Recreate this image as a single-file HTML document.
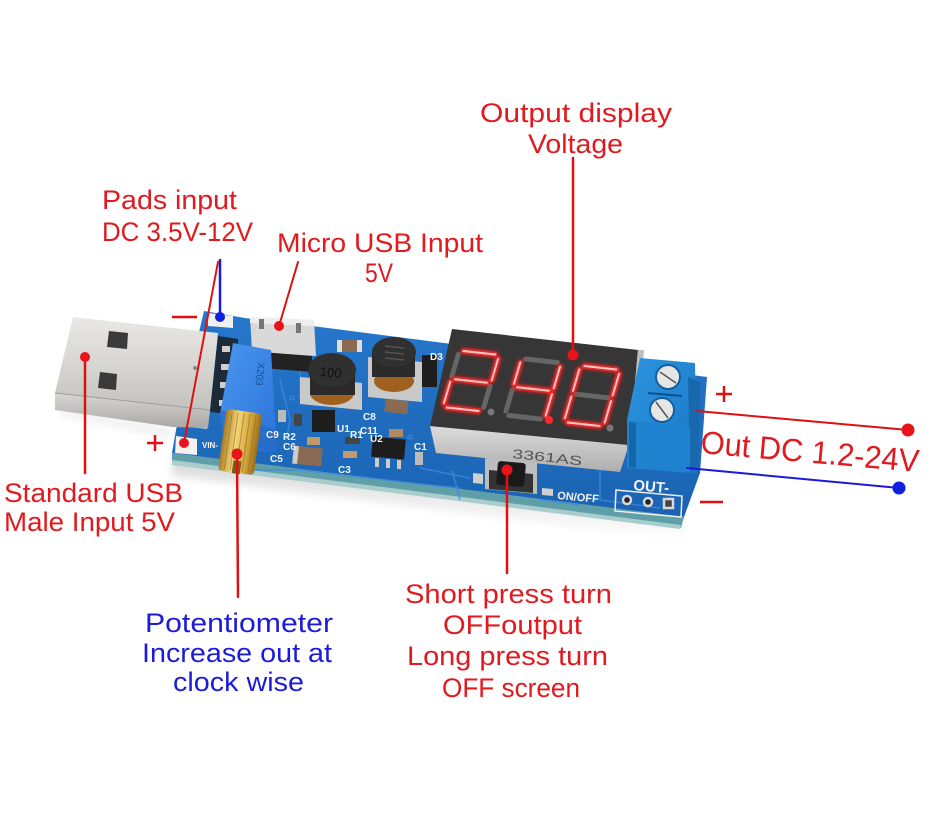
<!DOCTYPE html>
<html><head><meta charset="utf-8"><style>
html,body{margin:0;padding:0;background:#fff;}
svg{display:block;}
text{font-family:"Liberation Sans",Arial,sans-serif;}
</style></head><body>
<svg width="933" height="819" viewBox="0 0 933 819" xmlns="http://www.w3.org/2000/svg">
<defs>
<linearGradient id="pcb" x1="0" y1="0" x2="0" y2="1"><stop offset="0" stop-color="#2677cc"/><stop offset="1" stop-color="#1a63b2"/></linearGradient>
<linearGradient id="usb" x1="0" y1="0" x2="0" y2="1"><stop offset="0" stop-color="#e9e8e6"/><stop offset="0.6" stop-color="#d3d2cf"/><stop offset="1" stop-color="#c2c1be"/></linearGradient>
<linearGradient id="usbside" x1="0" y1="0" x2="0" y2="1"><stop offset="0" stop-color="#d8d7d5"/><stop offset="1" stop-color="#a9a8a5"/></linearGradient>
<linearGradient id="brass" x1="0" y1="0" x2="1" y2="0"><stop offset="0" stop-color="#a87a22"/><stop offset="0.35" stop-color="#f4d67a"/><stop offset="0.7" stop-color="#d7a940"/><stop offset="1" stop-color="#9a6d1c"/></linearGradient>
<linearGradient id="pot" x1="0" y1="0" x2="1" y2="1"><stop offset="0" stop-color="#4b97f0"/><stop offset="1" stop-color="#2a72d8"/></linearGradient>
<linearGradient id="dispside" x1="0" y1="0" x2="0" y2="1"><stop offset="0" stop-color="#dcdcdc"/><stop offset="1" stop-color="#aeaeae"/></linearGradient>
<linearGradient id="term" x1="0" y1="0" x2="1" y2="1"><stop offset="0" stop-color="#2e94e0"/><stop offset="1" stop-color="#1878c4"/></linearGradient>
<linearGradient id="shadow" x1="0" y1="0" x2="0" y2="1"><stop offset="0" stop-color="#d2d2d2"/><stop offset="1" stop-color="#ffffff"/></linearGradient>
<filter id="blur" x="-20%" y="-50%" width="140%" height="200%"><feGaussianBlur stdDeviation="4"/></filter>
<filter id="glow" x="-30%" y="-30%" width="160%" height="160%"><feGaussianBlur stdDeviation="1.5"/></filter>
</defs>

<!-- shadow -->
<polygon points="172,456 684,520 690,542 172,476" fill="url(#shadow)" filter="url(#blur)" opacity="0.85"/>
<polygon points="60,408 172,428 172,438 60,416" fill="#e6e6e6" filter="url(#blur)" opacity="0.6"/>

<!-- PCB side thickness -->
<polygon points="172,453 684,517 681,528 172,463" fill="#5f9fa8"/>
<polygon points="172,460 681,525 680,529 172,465" fill="#a9cccc"/>

<!-- PCB top face -->
<polygon points="204,311 245,318 320,327 707,377 700,473 684,517 172,453 176,430" fill="url(#pcb)"/>
<!-- traces -->
<g stroke="#3d8be0" stroke-width="1.5" fill="none" opacity="0.75">
<polyline points="250,470 300,470 420,484 460,488"/>
<polyline points="420,468 440,472 470,478"/>
<polyline points="600,470 600,500 660,508"/>
<polyline points="452,470 460,500"/>
<polyline points="300,370 300,398"/>
<polyline points="280,380 290,420 286,440"/>
<polyline points="540,500 580,505"/>
<circle cx="292" cy="398" r="2"/>
<circle cx="410" cy="437" r="2"/>
</g>

<!-- pads left -->
<polygon points="208,313 233,316 233,328 208,326" fill="#f1f1f1"/>
<polygon points="176,436 197,439 197,455 175,453" fill="#f1f1f1"/>
<polygon points="190,420 207,422 207,429 190,427" fill="#d9d9d9"/>

<!-- USB plug -->
<polygon points="73,317 218,333 210,410 55,393" fill="url(#usb)"/>
<polygon points="55,393 210,410 208,428 173,427 55,410" fill="url(#usbside)"/>
<line x1="55" y1="393" x2="210" y2="410" stroke="#9e9d9a" stroke-width="1"/>
<polygon points="109,331 128,333 127,349 107,347" fill="#3a3a3a"/>
<polygon points="100,372 117,374 116,390 98,388" fill="#3a3a3a"/>
<circle cx="195" cy="368" r="2" fill="#888"/>
<!-- pins -->
<polygon points="218,336 238,339 236,415 210,412" fill="#1d2a38"/>
<g fill="#cfcfcf"><rect x="222" y="346" width="8" height="6"/><rect x="221" y="364" width="8" height="6"/><rect x="220" y="382" width="8" height="6"/><rect x="219" y="400" width="8" height="6"/></g>

<!-- micro usb -->
<polygon points="250,317 314,320 316,356 252,352" fill="#d9d9d9"/>
<polygon points="250,317 314,320 314,326 250,323" fill="#eeeeee"/>
<rect x="259" y="319" width="5" height="10" fill="#777"/>
<rect x="296" y="323" width="5" height="10" fill="#777"/>
<polygon points="262,352 312,356 312,372 262,368" fill="#222"/>

<!-- pot -->
<polygon points="233,343 271,350 277,453 226,448 220,414" fill="url(#pot)"/>
<polygon points="220,414 226,448 277,453 276,430 222,410" fill="#2466c0" opacity="0.6"/>
<text x="0" y="0" transform="translate(258,362) rotate(96)" font-size="10" fill="#1c4f9a">X203</text>
<!-- brass knob -->
<g transform="translate(240,443) rotate(8)">
<rect x="-18" y="-32" width="36" height="62" rx="4" fill="url(#brass)"/>
<g stroke="#9c7220" stroke-width="1" opacity="0.7"><line x1="-12" y1="-30" x2="-12" y2="28"/><line x1="-6" y1="-30" x2="-6" y2="28"/><line x1="0" y1="-30" x2="0" y2="28"/><line x1="6" y1="-30" x2="6" y2="28"/><line x1="12" y1="-30" x2="12" y2="28"/></g>
<rect x="-4" y="18" width="8" height="13" fill="#7a5a18"/>
</g>

<!-- inductors -->
<polygon points="300,377 362,383 362,410 300,404" fill="#c9c9c9"/>
<ellipse cx="332" cy="393" rx="22" ry="12" fill="#a0601e"/>
<rect x="310" y="370" width="45" height="25" fill="#2a2a2a"/>
<ellipse cx="332" cy="370" rx="24" ry="17" fill="#303030"/>
<text x="320" y="377" font-size="13" fill="#111" transform="rotate(5 332 372)">100</text>
<polygon points="368,357 422,362 422,402 368,397" fill="#c9c9c9"/>
<ellipse cx="394" cy="381" rx="20" ry="11" fill="#a0601e"/>
<rect x="372" y="352" width="43" height="25" fill="#2a2a2a"/>
<ellipse cx="394" cy="352" rx="22" ry="15" fill="#303030"/>
<g stroke="#555" stroke-width="1.5"><line x1="385" y1="346" x2="404" y2="348"/><line x1="385" y1="352" x2="404" y2="354"/><line x1="385" y1="358" x2="404" y2="360"/></g>

<!-- SMD parts -->
<g>
<rect x="337" y="340" width="25" height="12" fill="#8a6a52"/><rect x="337" y="340" width="5" height="12" fill="#ddd"/><rect x="357" y="340" width="5" height="12" fill="#ddd"/>
<rect x="385" y="400" width="23" height="13" fill="#8a6a52" transform="rotate(6 396 406)"/>
<rect x="389" y="429" width="14" height="8" fill="#b08a60"/>
<rect x="293" y="447" width="29" height="18" fill="#8a6a52" transform="rotate(6 307 456)"/><rect x="293" y="447" width="5" height="18" fill="#ccc" transform="rotate(6 307 456)"/>
<rect x="307" y="437" width="13" height="8" fill="#c09a6a"/>
<rect x="343" y="451" width="14" height="7" fill="#c09a6a"/>
<rect x="345" y="437" width="15" height="7" fill="#444"/>
<rect x="372" y="438" width="33" height="20" fill="#1d1d1d" transform="rotate(5 388 448)"/>
<g fill="#ccc"><rect x="375" y="458" width="4" height="9"/><rect x="386" y="459" width="4" height="9"/><rect x="397" y="460" width="4" height="9"/></g>
<rect x="415" y="452" width="8" height="13" fill="#bbb"/>
<rect x="312" y="410" width="23" height="22" fill="#1d1d1d"/>
<rect x="422" y="355" width="15" height="32" fill="#1d1d1d"/>
<rect x="278" y="410" width="8" height="12" fill="#bbb"/>
<rect x="294" y="414" width="8" height="12" fill="#444"/>
</g>
<g fill="#f4f4f4" font-size="10" font-weight="bold">
<text x="430" y="360">D3</text>
<text x="363" y="420">C8</text>
<text x="360" y="434">C11</text>
<text x="337" y="432">U1</text>
<text x="370" y="442">U2</text>
<text x="350" y="438">R1</text>
<text x="266" y="438">C9</text>
<text x="283" y="440">R2</text>
<text x="283" y="450">C6</text>
<text x="270" y="462">C5</text>
<text x="338" y="473">C3</text>
<text x="414" y="450">C1</text>
<text x="202" y="448" font-size="8">VIN-</text>
</g>

<!-- display -->
<polygon points="430,426 629,445 620,472 436,453" fill="url(#dispside)"/>
<polygon points="452,329 638,350 629,445 430,426" fill="#363636"/>
<polygon points="638,350 644,350 636,447 629,445" fill="#bdbdbd"/>
<text x="0" y="0" transform="translate(512,458) rotate(6)" font-size="13" fill="#555" textLength="70" lengthAdjust="spacingAndGlyphs">3361AS</text>

<!-- digits unlit -->
<g stroke="#777" stroke-width="5" stroke-linecap="round" fill="none" opacity="0.75">
<path transform="translate(471,381) rotate(6.4) skewX(-10)" d="M-16,-29H16M20,-25V-3M20,3V25M-16,29H16M-20,3V25M-20,-25V-3M-16,0H16"/>
<path transform="translate(533,389) rotate(6.4) skewX(-10)" d="M-16,-29H16M20,-25V-3M20,3V25M-16,29H16M-20,3V25M-20,-25V-3M-16,0H16"/>
<path transform="translate(592,396) rotate(6.4) skewX(-10)" d="M-16,-29H16M20,-25V-3M20,3V25M-16,29H16M-20,3V25M-20,-25V-3M-16,0H16"/>
</g>
<g fill="#777"><circle cx="491" cy="412" r="3.5"/><circle cx="610" cy="428" r="3.5"/></g>
<!-- digits lit -->
<g stroke="#ff1a1a" stroke-width="6" stroke-linecap="round" fill="none" filter="url(#glow)">
<path transform="translate(471,381) rotate(6.4) skewX(-10)" d="M-16,-29H16M20,-25V-3M-16,0H16M-20,3V25M-16,29H16"/>
<path transform="translate(533,389) rotate(6.4) skewX(-10)" d="M-20,-25V-3M-16,0H16M20,-25V-3M20,3V25"/>
<path transform="translate(592,396) rotate(6.4) skewX(-10)" d="M-16,-29H16M20,-25V-3M20,3V25M-16,29H16M-20,3V25M-20,-25V-3"/>
</g>
<g stroke="#ffc4c4" stroke-width="2" stroke-linecap="round" fill="none">
<path transform="translate(471,381) rotate(6.4) skewX(-10)" d="M-16,-29H16M20,-25V-3M-16,0H16M-20,3V25M-16,29H16"/>
<path transform="translate(533,389) rotate(6.4) skewX(-10)" d="M-20,-25V-3M-16,0H16M20,-25V-3M20,3V25"/>
<path transform="translate(592,396) rotate(6.4) skewX(-10)" d="M-16,-29H16M20,-25V-3M20,3V25M-16,29H16M-20,3V25M-20,-25V-3"/>
</g>
<circle cx="549" cy="420" r="4" fill="#ff2a2a"/>

<!-- button -->
<polygon points="473,473 483,474 483,484 473,483" fill="#cfcfcf"/>
<polygon points="542,488 553,489 553,496 542,495" fill="#cfcfcf"/>
<polygon points="485,458 537,463 537,494 485,489" fill="#bdbdbd"/>
<polygon points="489,470 533,474 533,493 489,489" fill="#333"/>
<rect x="497" y="462" width="28" height="24" rx="3" fill="#1a1a1a" transform="rotate(5 511 474)"/>
<text x="0" y="0" transform="translate(557,499) rotate(5)" font-size="11" font-weight="bold" fill="#f2f2f2">ON/OFF</text>

<!-- terminal block -->
<polygon points="640,358 695,363 697,473 627,468 627,420" fill="url(#term)"/>
<polygon points="688,377 700,382 698,466 690,472" fill="#1868ae"/>
<polygon points="627,420 690,428 690,473 627,468" fill="#1f82cf"/>
<polygon points="629,422 636,423 636,468 629,467" fill="#1566a8"/>
<circle cx="668" cy="377" r="12" fill="#e6e6e6" stroke="#155f9e" stroke-width="2"/>
<line x1="660" y1="372" x2="676" y2="383" stroke="#555" stroke-width="1.5"/>
<circle cx="662" cy="410" r="12" fill="#e6e6e6" stroke="#155f9e" stroke-width="2"/>
<line x1="656" y1="402" x2="668" y2="418" stroke="#555" stroke-width="1.5"/>
<line x1="648" y1="393" x2="682" y2="396" stroke="#0f4f88" stroke-width="2"/>

<!-- OUT- and pins -->
<text x="0" y="0" transform="translate(633,490) rotate(5)" font-size="15" font-weight="bold" fill="#f4f4f4">OUT-</text>
<polygon points="616,490 682,496 681,517 615,511" fill="none" stroke="#eee" stroke-width="1.5"/>
<g stroke="#d8d8d8" stroke-width="2.5" fill="#222"><circle cx="627" cy="500" r="4"/><circle cx="648" cy="502" r="4"/></g>
<rect x="664" y="499" width="9" height="9" fill="#444" stroke="#d8d8d8" stroke-width="2.5"/>

<!-- ===== annotations ===== -->
<g stroke-linecap="round">
<line x1="573" y1="158" x2="573" y2="355" stroke="#e01010" stroke-width="2.5"/>
<line x1="220" y1="260" x2="220" y2="317" stroke="#1a1adb" stroke-width="2.5"/>
<line x1="218" y1="262" x2="184" y2="443" stroke="#e01010" stroke-width="2"/>
<line x1="298" y1="262" x2="279" y2="326" stroke="#e01010" stroke-width="2"/>
<line x1="85" y1="357" x2="85" y2="473" stroke="#e01010" stroke-width="2.5"/>
<line x1="237" y1="454" x2="238" y2="597" stroke="#e01010" stroke-width="2.5"/>
<line x1="507" y1="470" x2="507" y2="573" stroke="#e01010" stroke-width="2.5"/>
<line x1="697" y1="411" x2="908" y2="430" stroke="#e01010" stroke-width="2"/>
<line x1="687" y1="468" x2="899" y2="488" stroke="#1a1adb" stroke-width="2"/>
</g>
<g fill="#e8141b">
<circle cx="573" cy="355" r="5.5"/>
<circle cx="184" cy="443" r="5"/>
<circle cx="279" cy="326" r="5"/>
<circle cx="85" cy="357" r="5"/>
<circle cx="237" cy="454" r="5.5"/>
<circle cx="507" cy="470" r="5.5"/>
<circle cx="908" cy="430" r="6.5"/>
</g>
<g fill="#1020e0">
<circle cx="220" cy="317" r="5"/>
<circle cx="899" cy="488" r="6.5"/>
</g>
<!-- plus / minus marks -->
<g stroke="#e01010" stroke-width="2.5">
<line x1="172" y1="317" x2="197" y2="317"/>
<line x1="147" y1="443" x2="163" y2="443"/><line x1="155" y1="435" x2="155" y2="451"/>
<line x1="716" y1="394" x2="732" y2="394"/><line x1="724" y1="386" x2="724" y2="402"/>
<line x1="700" y1="502" x2="723" y2="502"/>
</g>

<!-- labels -->
<g fill="#e01a1f" font-size="27">
<text x="480" y="122" textLength="192" lengthAdjust="spacingAndGlyphs">Output display</text>
<text x="528" y="153" textLength="95" lengthAdjust="spacingAndGlyphs">Voltage</text>
<text x="102" y="209" textLength="135" lengthAdjust="spacingAndGlyphs">Pads input</text>
<text x="102" y="241" textLength="151" lengthAdjust="spacingAndGlyphs">DC 3.5V-12V</text>
<text x="277" y="252" textLength="206" lengthAdjust="spacingAndGlyphs">Micro USB Input</text>
<text x="365" y="282" textLength="28" lengthAdjust="spacingAndGlyphs">5V</text>
<text x="4" y="502" textLength="179" lengthAdjust="spacingAndGlyphs">Standard USB</text>
<text x="4" y="531" textLength="171" lengthAdjust="spacingAndGlyphs">Male Input 5V</text>
<text x="405" y="603" textLength="207" lengthAdjust="spacingAndGlyphs">Short press turn</text>
<text x="443" y="634" textLength="139" lengthAdjust="spacingAndGlyphs">OFFoutput</text>
<text x="407" y="665" textLength="201" lengthAdjust="spacingAndGlyphs">Long press turn</text>
<text x="442" y="697" textLength="138" lengthAdjust="spacingAndGlyphs">OFF screen</text>
<text x="0" y="0" transform="translate(700,453) rotate(5)" font-size="32" textLength="219" lengthAdjust="spacingAndGlyphs">Out DC 1.2-24V</text>
</g>
<g fill="#1c1cd8" font-size="27">
<text x="145" y="632" textLength="188" lengthAdjust="spacingAndGlyphs">Potentiometer</text>
<text x="142" y="662" textLength="190" lengthAdjust="spacingAndGlyphs">Increase out at</text>
<text x="173" y="691" textLength="131" lengthAdjust="spacingAndGlyphs">clock wise</text>
</g>
</svg>
</body></html>
